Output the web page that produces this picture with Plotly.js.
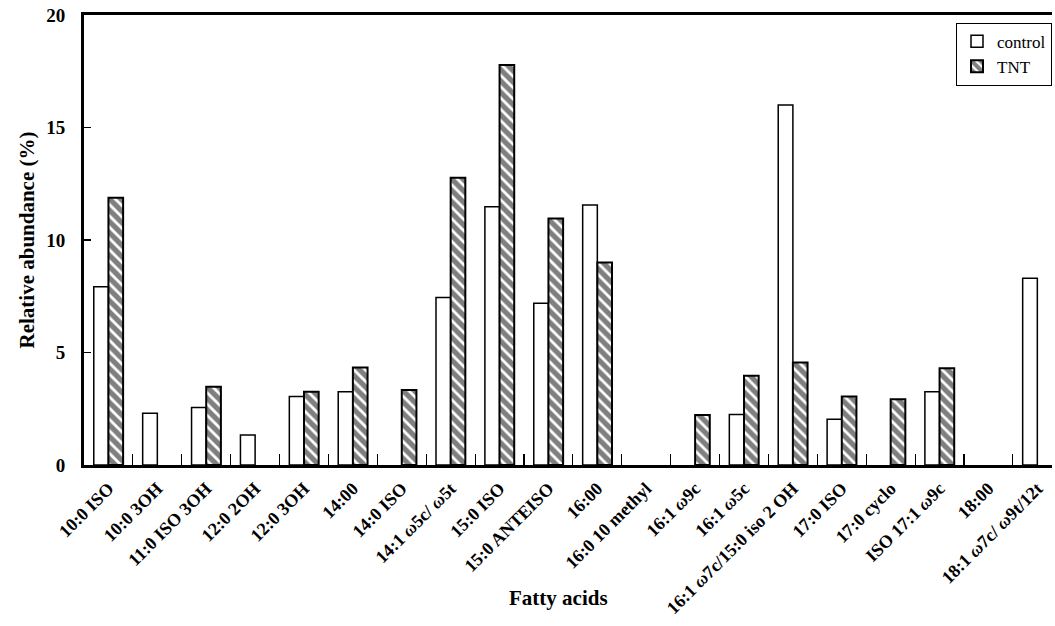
<!DOCTYPE html>
<html>
<head>
<meta charset="utf-8">
<script src="https://cdn.plot.ly/plotly-3.0.1.min.js"></script>
<style>html,body{margin:0;padding:0;background:#fff;}#chart{width:1055px;height:626px;}</style>
</head>
<body>
<div id="chart"></div>
<script>
const categories = ['10:0 ISO','10:0 3OH','11:0 ISO 3OH','12:0 2OH','12:0 3OH','14:00','14:0 ISO','14:1 ω5c/ ω5t','15:0 ISO','15:0 ANTEISO','16:00','16:0 10 methyl','16:1 ω9c','16:1 ω5c','16:1 ω7c/15:0 iso 2 OH','17:0 ISO','17:0 cyclo','ISO 17:1 ω9c','18:00','18:1 ω7c/ ω9t/12t'];
const tickLabels = ['10:0 ISO','10:0 3OH','11:0 ISO 3OH','12:0 2OH','12:0 3OH','14:00','14:0 ISO','14:1 <i>ω</i>5c/ <i>ω</i>5t','15:0 ISO','15:0 ANTEISO','16:00','16:0 10 methyl','16:1 <i>ω</i>9c','16:1 <i>ω</i>5c','16:1 <i>ω</i>7c/15:0 iso 2 OH','17:0 ISO','17:0 cyclo','ISO 17:1 <i>ω</i>9c','18:00','18:1 <i>ω</i>7c/ <i>ω</i>9t/12t'];
const controlValues = [7.92, 2.3, 2.56, 1.33, 3.04, 3.26, null, 7.44, 11.48, 7.19, 11.56, null, null, 2.25, 16.0, 2.03, null, 3.26, null, 8.3];
const tntValues = [11.88, null, 3.48, null, 3.26, 4.33, 3.33, 12.77, 17.78, 10.96, 9.0, null, 2.22, 3.97, 4.56, 3.04, 2.92, 4.3, null, null];
const yTicks = [0, 5, 10, 15, 20];

const serif = 'Liberation Serif, Times New Roman, serif';

const traces = [
  {
    type: 'bar', name: 'control', x: categories, y: controlValues,
    marker: {color: '#ffffff', line: {color: '#000000', width: 1.5}},
    hoverinfo: 'x+y'
  },
  {
    type: 'bar', name: 'TNT', x: categories, y: tntValues,
    marker: {color: '#ffffff', line: {color: '#000000', width: 2},
      pattern: {shape: '\\', size: 8, solidity: 0.65, fgcolor: '#000000', bgcolor: '#ffffff', fillmode: 'overlay'}},
    hoverinfo: 'x+y'
  }
];

const layout = {
  width: 1055, height: 626,
  margin: {l: 84, r: 3, t: 15, b: 161, pad: 0},
  paper_bgcolor: '#ffffff', plot_bgcolor: '#ffffff',
  font: {family: serif, color: '#000000'},
  barmode: 'group', bargap: 0.4, bargroupgap: 0,
  showlegend: true,
  legend: {
    x: 1, xanchor: 'right', y: 0.983, yanchor: 'top',
    bgcolor: '#ffffff', bordercolor: '#000000', borderwidth: 1,
    font: {family: serif, size: 17, color: '#000000'},
    tracegroupgap: 0, itemwidth: 30
  },
  xaxis: {
    type: 'category', range: [-0.5, 19.3],
    tickvals: categories, ticktext: tickLabels,
    tickangle: -45, tickson: 'boundaries',
    ticks: 'inside', ticklen: 11, tickwidth: 1.2, tickcolor: '#000000',
    ticklabelstandoff: 3,
    tickfont: {family: serif, size: 18, weight: 'bold', color: '#000000'},
    showline: true, linewidth: 3, linecolor: '#000000', mirror: true,
    showgrid: false, zeroline: false, automargin: false, fixedrange: true
  },
  yaxis: {
    range: [0, 20], tickvals: yTicks,
    ticks: 'inside', ticklen: 7, tickwidth: 1.2, tickcolor: '#000000',
    ticklabelstandoff: 12,
    tickfont: {family: serif, size: 19, weight: 'bold', color: '#000000'},
    showline: true, linewidth: 3, linecolor: '#000000',
    showgrid: false, zeroline: false, automargin: false, fixedrange: true,
    title: {text: 'Relative abundance (%)', font: {family: serif, size: 21, weight: 'bold', color: '#000000'}, standoff: 6}
  },
  annotations: [
    {text: 'Fatty acids', xref: 'paper', yref: 'paper', x: 0.49, y: -0.295, xanchor: 'center', yanchor: 'middle',
     showarrow: false, font: {family: serif, size: 21, weight: 'bold', color: '#000000'}}
  ]
};

Plotly.newPlot('chart', traces, layout, {displayModeBar: false, staticPlot: true});
</script>
</body>
</html>
